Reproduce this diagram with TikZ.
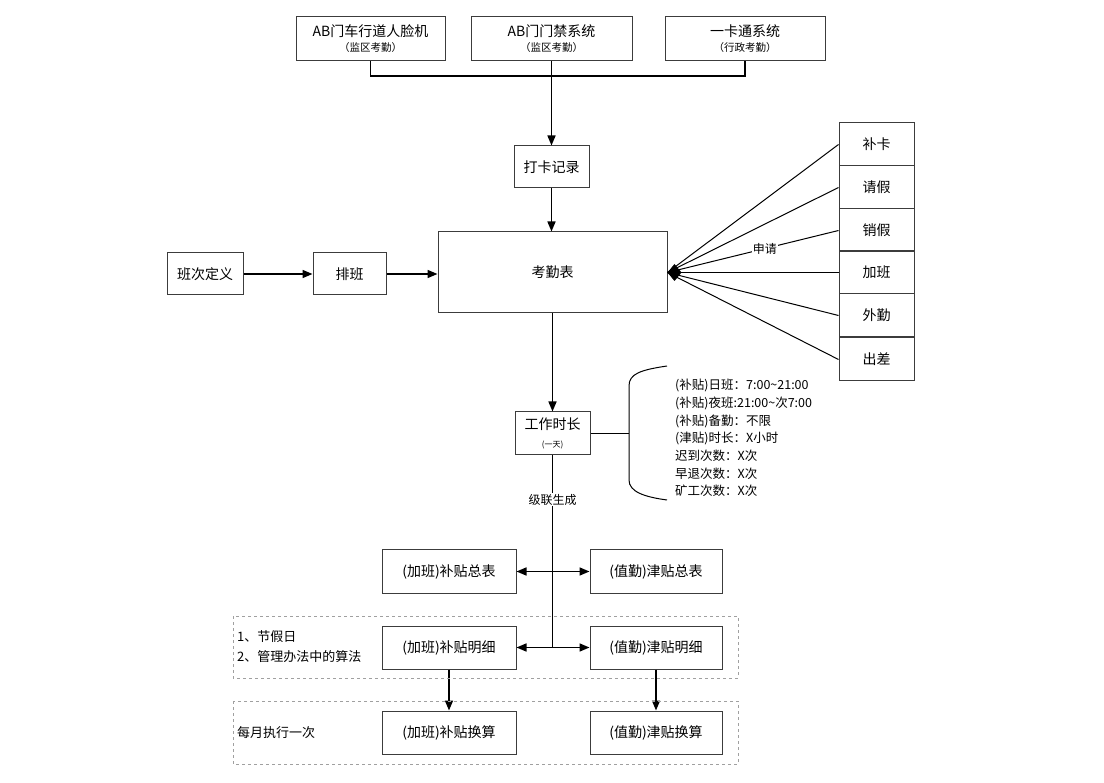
\documentclass[tikz,border=0pt]{standalone}
\usepackage{fontspec}
\setmainfont{Noto Sans CJK SC}
\usetikzlibrary{arrows.meta,positioning}
\definecolor{edge}{HTML}{3C3C3C}
\definecolor{dashgray}{HTML}{A0A0A0}
\newcommand{\smalltext}{\fontsize{10.5}{12}\selectfont}
\newcommand{\tinytext}{\fontsize{8}{10}\selectfont}
\tikzset{
  flow/.style={-{Triangle[length=10pt,width=8pt]},line width=1.5pt},
  link/.style={line width=1.5pt},
  fan/.style={line width=1pt},
  hub/.style={{Diamond[length=14pt,width=17pt]}-,line width=1pt},
  box/.style={draw=edge,line width=1pt,inner sep=0pt,align=center,
    minimum width=75pt,minimum height=43pt,font=\fontsize{14}{17}\selectfont},
  group/.style={draw=dashgray,dashed,line width=0.8pt},
  labeltext/.style={font=\fontsize{12}{14}\selectfont,fill=white,inner sep=1pt},
  note/.style={font=\fontsize{12.5}{17.7}\selectfont,align=left,inner sep=0pt}
}
\begin{document}
\begin{tikzpicture}[x=1pt,y=-1pt]
\useasboundingbox (0,0) rectangle (1104,783);
% sources
\node[box,minimum width=149pt,minimum height=44pt] (face) at (370.5,39) {AB门车行道人脸机\\[-2pt]{\smalltext（监区考勤）}};
\node[box,minimum width=161pt,minimum height=44pt] (gate) at (551.5,39) {AB门门禁系统\\[-2pt]{\smalltext（监区考勤）}};
\node[box,minimum width=160pt,minimum height=44pt] (card) at (745,39) {一卡通系统\\[-2pt]{\smalltext（行政考勤）}};
\coordinate (bus) at (551.5,76);
\draw[link] (face.south) -- (face.south |- bus) -- (card.south |- bus) -- (card.south);
\node[box,minimum height=42pt] (punch) at (551.5,167) {打卡记录};
\draw[flow] (gate.south) -- (punch.north);

% attendance sheet
\node[box,minimum width=229pt,minimum height=81pt] (sheet) at (552.5,272.5) {考勤表};
\node[box,minimum width=76pt,minimum height=42pt] (shift) at (205,274) {班次定义};
\node[box,minimum width=73pt,minimum height=42pt] (roster) at (349.5,274) {排班};
\draw[flow] (punch.south) -- (punch.south |- sheet.north);
\draw[flow] (shift.east) -- (roster.west);
\draw[flow] (roster.east) -- (roster.east -| sheet.west);

% requests
\node[box] (bk) at (876.5,144.5) {补卡};
\node[box] (qj) at (876.5,187.5) {请假};
\node[box] (xj) at (876.5,230.5) {销假};
\node[box] (jb) at (876.5,272.5) {加班};
\node[box] (wq) at (876.5,315.5) {外勤};
\node[box] (cc) at (876.5,359.5) {出差};
\draw[fan] (sheet.east) -- (bk.west);
\draw[fan] (sheet.east) -- (qj.west);
\draw[fan] (sheet.east) -- node[labeltext,pos=0.57] {申请} (xj.west);
\draw[hub] (sheet.east) -- (jb.west);
\draw[fan] (sheet.east) -- (wq.west);
\draw[fan] (sheet.east) -- (cc.west);

% daily hours
\node[box] (hours) at (552.5,433.5) {工作时长\\[1pt]{\tinytext(一天)}};
\draw[flow] (sheet.south -| hours.north) -- (hours.north);
\coordinate (bmid) at (629,433.5);
\draw[line width=1pt] (hours.east) -- (bmid);
\draw[line width=1pt] (667,366) .. controls (640,370) and (629,374) .. (629,386) -- (629,480) .. controls (629,492) and (645,497) .. (667,500);
\node[note,anchor=north west] (rules) at (675,379) {(补贴)日班：7:00\textasciitilde21:00\\(补贴)夜班:21:00\textasciitilde 次7:00\\(补贴)备勤：不限\\(津贴)时长：X小时\\迟到次数：X次\\早退次数：X次\\矿工次数：X次};

% allowances
\node[box,minimum width=134pt] (ottotal) at (449,571.5) {(加班)补贴总表};
\node[box,minimum width=132pt] (dutytotal) at (656,571.5) {(值勤)津贴总表};
\node[box,minimum width=134pt] (otdetail) at (449,647.5) {(加班)补贴明细};
\node[box,minimum width=132pt] (dutydetail) at (656,647.5) {(值勤)津贴明细};
\node[box,minimum width=134pt] (otcalc) at (449,732.5) {(加班)补贴换算};
\node[box,minimum width=132pt] (dutycalc) at (656,732.5) {(值勤)津贴换算};
\coordinate (j1) at (552.5,571.5);
\coordinate (j2) at (552.5,647.5);
\draw[link] (hours.south) -- node[labeltext,pos=0.23] {级联生成} (j2);
\draw[flow] (j1) -- (ottotal.east);
\draw[flow] (j1) -- (dutytotal.west);
\draw[flow] (j2) -- (otdetail.east);
\draw[flow] (j2) -- (dutydetail.west);
\draw[flow] (otdetail.south) -- (otcalc.north);
\draw[flow] (dutydetail.south) -- (dutycalc.north);

% groups
\draw[group] (233,616) rectangle (738,678);
\draw[group] (233,701) rectangle (738,764);
\node[note,anchor=west,font=\fontsize{13}{20}\selectfont] (holiday) at (237,647) {1、节假日\\2、管理办法中的算法};
\node[note,anchor=west,font=\fontsize{13}{20}\selectfont] (monthly) at (237,733) {每月执行一次};
\end{tikzpicture}
\end{document}
